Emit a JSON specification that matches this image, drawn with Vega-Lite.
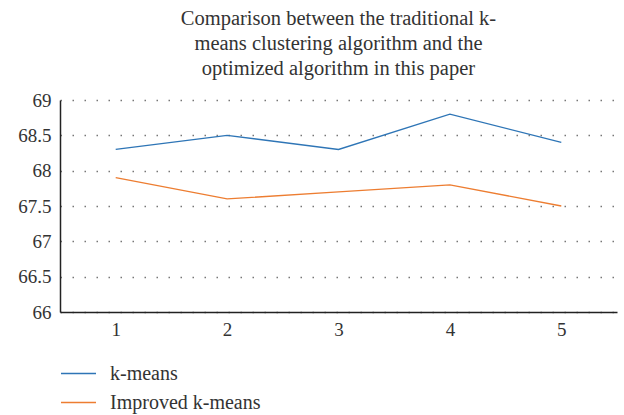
{
  "$schema": "https://vega.github.io/schema/vega-lite/v6.json",
  "autosize": "none",
  "width": 557,
  "height": 212,
  "padding": {"left": 60, "top": 100, "right": 7, "bottom": 103},
  "background": "white",
  "title": {
    "text": ["Comparison between the traditional k-", "means clustering algorithm and the", "optimized algorithm in this paper"],
    "anchor": "middle",
    "frame": "group",
    "font": "Times New Roman, Liberation Serif, serif",
    "fontSize": 20.5,
    "fontWeight": "normal",
    "color": "#333333",
    "lineHeight": 25,
    "offset": 12
  },
  "data": {
    "values": [
      {"x": "1", "series": "k-means", "v": 68.3},
      {"x": "2", "series": "k-means", "v": 68.5},
      {"x": "3", "series": "k-means", "v": 68.3},
      {"x": "4", "series": "k-means", "v": 68.8},
      {"x": "5", "series": "k-means", "v": 68.4},
      {"x": "1", "series": "Improved k-means", "v": 67.9},
      {"x": "2", "series": "Improved k-means", "v": 67.6},
      {"x": "3", "series": "Improved k-means", "v": 67.7},
      {"x": "4", "series": "Improved k-means", "v": 67.8},
      {"x": "5", "series": "Improved k-means", "v": 67.5}
    ]
  },
  "mark": {"type": "line", "strokeWidth": 1.3},
  "encoding": {
    "x": {
      "field": "x", "type": "ordinal",
      "scale": {"type": "point", "padding": 0.5},
      "axis": {
        "title": null, "labelAngle": 0, "ticks": false, "grid": false,
        "domainColor": "#222222", "domainWidth": 1.5,
        "labelFont": "Times New Roman, Liberation Serif, serif", "labelFontSize": 19, "labelColor": "#333333",
        "labelPadding": 8
      }
    },
    "y": {
      "field": "v", "type": "quantitative",
      "scale": {"domain": [66, 69], "zero": false, "nice": false},
      "axis": {
        "title": null, "values": [66, 66.5, 67, 67.5, 68, 68.5, 69], "format": "~g",
        "ticks": false, "grid": true, "gridColor": "#777777", "gridDash": [1.5, 10.5], "gridWidth": 1.3,
        "domainColor": "#222222", "domainWidth": 1.5,
        "labelFont": "Times New Roman, Liberation Serif, serif", "labelFontSize": 19, "labelColor": "#333333",
        "labelPadding": 9
      }
    },
    "color": {
      "field": "series", "type": "nominal",
      "scale": {"domain": ["k-means", "Improved k-means"], "range": ["#2E75B6", "#ED7D31"]},
      "legend": {
        "title": null, "orient": "none", "legendX": 0, "legendY": 255,
        "symbolType": "stroke", "symbolSize": 1225, "symbolStrokeWidth": 1.5,
        "labelFont": "Times New Roman, Liberation Serif, serif", "labelFontSize": 20, "labelColor": "#333333",
        "labelOffset": 13, "rowPadding": -8
      }
    }
  },
  "config": {"view": {"stroke": null}}
}
